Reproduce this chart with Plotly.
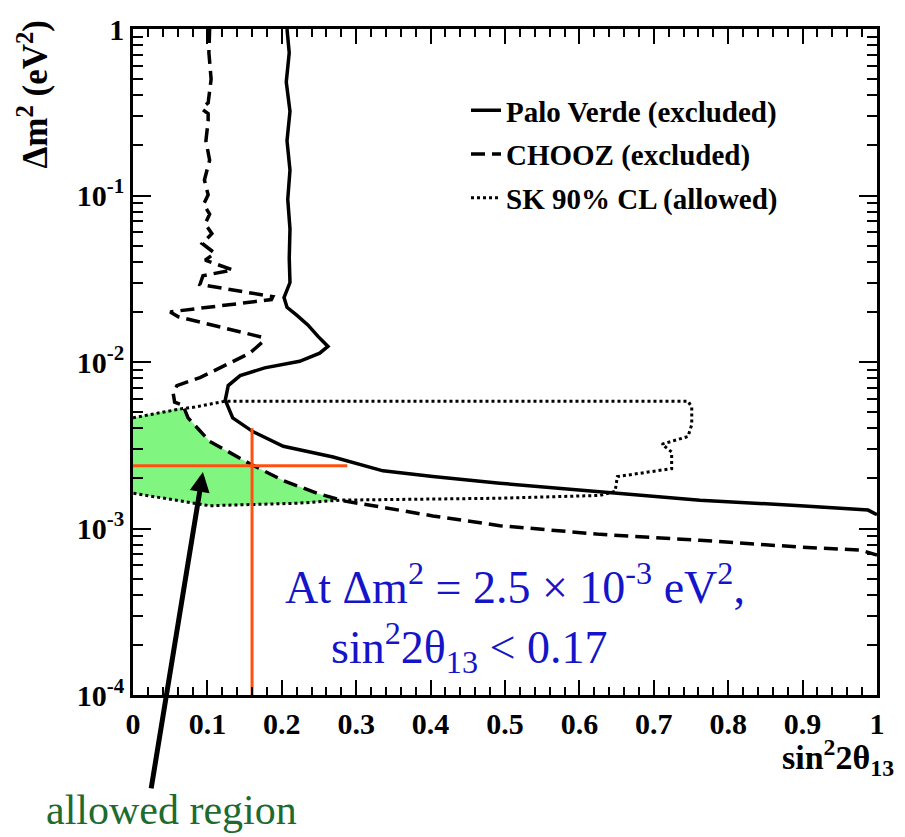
import plotly.graph_objects as go

# ---------------- data ----------------
pv_x = [0.207, 0.210, 0.206, 0.211, 0.207, 0.211, 0.208, 0.211, 0.210, 0.211, 0.203, 0.207,
        0.220, 0.235, 0.249, 0.262, 0.251, 0.224, 0.177, 0.144, 0.128, 0.124, 0.134, 0.161,
        0.202, 0.269, 0.336, 0.403, 0.493, 0.628, 0.762, 0.897, 0.988, 1.0]
pv_y = [1.0, 0.72, 0.48, 0.32, 0.213, 0.142, 0.0947, 0.063, 0.042, 0.030, 0.0244, 0.0213,
        0.0191, 0.0167, 0.0142, 0.0124, 0.0113, 0.0101, 0.00922, 0.00828, 0.00722, 0.0059,
        0.00462, 0.00382, 0.00312, 0.00269, 0.00222, 0.00205, 0.00187, 0.00167, 0.00148,
        0.00137, 0.00129, 0.00121]

chooz_x = [0.103, 0.102, 0.105, 0.101, 0.096, 0.093, 0.101, 0.101, 0.098, 0.103, 0.096,
           0.101, 0.095, 0.103, 0.097, 0.106, 0.093, 0.110, 0.097, 0.134, 0.094, 0.090,
           0.188, 0.186, 0.050, 0.061, 0.173, 0.175, 0.157, 0.090, 0.059, 0.054, 0.056,
           0.067, 0.074, 0.103, 0.157, 0.202, 0.247, 0.285, 0.323, 0.403, 0.493, 0.628,
           0.762, 0.897, 0.977, 1.0]
chooz_y = [1.0, 0.72, 0.50, 0.36, 0.345, 0.33, 0.31, 0.28, 0.213, 0.163, 0.124, 0.101,
           0.0885, 0.0773, 0.0675, 0.059, 0.0515, 0.045, 0.0409, 0.0357, 0.033, 0.0292,
           0.0247, 0.0237, 0.020, 0.0187, 0.0141, 0.0133, 0.0113, 0.00805, 0.00722, 0.00648,
           0.00574, 0.00551, 0.00462, 0.00334, 0.00245, 0.00194, 0.00163, 0.00146, 0.00137,
           0.00119, 0.00104, 0.000922, 0.00085, 0.000773, 0.000743, 0.000693]

sk_x = [0.0, 0.063, 0.083, 0.103, 0.124, 0.359, 0.746, 0.751, 0.751, 0.746, 0.711, 0.724,
        0.724, 0.651, 0.648, 0.628, 0.493, 0.278, 0.224, 0.103, 0.0]
sk_y = [0.00462, 0.00522, 0.00536, 0.00559, 0.00582, 0.00582, 0.00582, 0.00536, 0.00421,
        0.00357, 0.00321, 0.00288, 0.00229, 0.00205, 0.00167, 0.00158, 0.00152, 0.00148,
        0.00142, 0.00137, 0.00163]

allowed_x = [0.0, 0.063, 0.071, 0.074, 0.103, 0.157, 0.202, 0.247, 0.278, 0.224, 0.103, 0.0, 0.0]
allowed_y = [0.00462, 0.00530, 0.00490, 0.00462, 0.00334, 0.00245, 0.00194, 0.00163,
             0.00148, 0.00142, 0.00137, 0.00163, 0.00462]

cross_h_x = [0.0, 0.288]
cross_h_y = [0.00238, 0.00238]
cross_v_x = [0.16, 0.16]
cross_v_y = [0.0040, 0.0001]

x_ticks = [0, 0.1, 0.2, 0.3, 0.4, 0.5, 0.6, 0.7, 0.8, 0.9, 1]
x_ticktext = ["0", "0.1", "0.2", "0.3", "0.4", "0.5", "0.6", "0.7", "0.8", "0.9", "1"]
y_ticks = [1e-4, 1e-3, 1e-2, 1e-1, 1]
y_ticktext = ["10<sup>-4</sup>", "10<sup>-3</sup>", "10<sup>-2</sup>", "10<sup>-1</sup>", "1"]
y_minor = [m * 10.0 ** e for e in range(-4, 0) for m in range(2, 10)]

FONT = "Liberation Serif, DejaVu Serif, serif"

fig = go.Figure()

fig.add_trace(go.Scatter(x=allowed_x, y=allowed_y, mode="lines", fill="toself",
                         fillcolor="#80F580", line=dict(color="rgba(0,0,0,0)", width=0),
                         showlegend=False, hoverinfo="skip"))

fig.add_trace(go.Scatter(x=pv_x, y=pv_y, mode="lines", name="Palo Verde (excluded)",
                         legendgroup="a",
                         line=dict(color="black", width=3.5)))
fig.add_trace(go.Scatter(x=chooz_x, y=chooz_y, mode="lines", name="CHOOZ (excluded)",
                         legendgroup="b",
                         line=dict(color="black", width=3.5, dash="14px,7px")))
fig.add_trace(go.Scatter(x=sk_x, y=sk_y, mode="lines", name="SK 90% CL (allowed)",
                         legendgroup="c",
                         line=dict(color="black", width=3, dash="3px,3px")))

fig.add_trace(go.Scatter(x=cross_h_x, y=cross_h_y, mode="lines", showlegend=False,
                         line=dict(color="#FF5010", width=3), hoverinfo="skip"))
fig.add_trace(go.Scatter(x=cross_v_x, y=cross_v_y, mode="lines", showlegend=False,
                         line=dict(color="#FF5010", width=3), hoverinfo="skip"))

axis_common = dict(showline=True, linecolor="black", linewidth=2.5, mirror="allticks",
                   ticks="inside", tickcolor="black", tickwidth=2, showgrid=False,
                   zeroline=False, ticklabeloverflow="allow",
                   tickfont=dict(family=FONT, size=30, color="black", weight="bold"))

fig.update_xaxes(range=[0, 1], tickmode="array", tickvals=x_ticks, ticktext=x_ticktext,
                 ticklen=15,
                 minor=dict(dtick=0.02, ticks="inside", ticklen=8, tickcolor="black",
                            tickwidth=2, showgrid=False),
                 **axis_common)
fig.update_yaxes(type="log", range=[-4, 0], tickmode="array", tickvals=y_ticks,
                 ticktext=y_ticktext, ticklen=18,
                 minor=dict(tickmode="array", tickvals=y_minor, ticks="inside", ticklen=10,
                            tickcolor="black", tickwidth=2, showgrid=False),
                 **axis_common)

fig.update_layout(
    width=905, height=837,
    margin=dict(l=133, r=28, t=16, b=142),
    plot_bgcolor="white", paper_bgcolor="white",
    font=dict(family=FONT, color="black"),
    legend=dict(x=(466 - 133) / 744, y=1 - (73 - 16) / 679, xanchor="left", yanchor="top",
                bgcolor="rgba(0,0,0,0)", tracegroupgap=3,
                font=dict(family=FONT, size=29, color="black", weight="bold")),
    annotations=[
        dict(xref="paper", yref="paper", x=-0.135, y=1.015, xanchor="center", yanchor="top",
             text="Δm<sup>2</sup> (eV<sup>2</sup>)", textangle=-90, showarrow=False,
             font=dict(family=FONT, size=35, color="black", weight="bold")),
        dict(xref="paper", yref="paper", x=1.025, y=-0.055, xanchor="right", yanchor="top",
             text="sin<sup>2</sup>2θ<sub>13</sub>", showarrow=False,
             font=dict(family=FONT, size=34, color="black", weight="bold")),
        dict(xref="paper", yref="paper", x=(283 - 133) / 744, y=1 - (616 - 16) / 679,
             xanchor="left", yanchor="middle", align="left",
             text=("At Δm<sup>2</sup> = 2.5 × 10<sup>-3</sup> eV<sup>2</sup>,<br>"
                   "\u00a0\u00a0\u00a0\u00a0sin<sup>2</sup>2θ<sub>13</sub> < 0.17"),
             showarrow=False, font=dict(family=FONT, size=46, color="#1414C8")),
        dict(xref="paper", yref="paper", x=(44 - 133) / 744, y=1 - (812 - 16) / 679,
             xanchor="left", yanchor="middle", text="allowed region", showarrow=False,
             font=dict(family=FONT, size=42, color="#1E6B30")),
        dict(xref="x", yref="y", x=0.094, y=-2.66, ax=-52, ay=318, text="",
             showarrow=True, arrowhead=2, arrowsize=0.8, arrowwidth=5,
             arrowcolor="black"),
    ],
)

fig.write_html("out.html")
